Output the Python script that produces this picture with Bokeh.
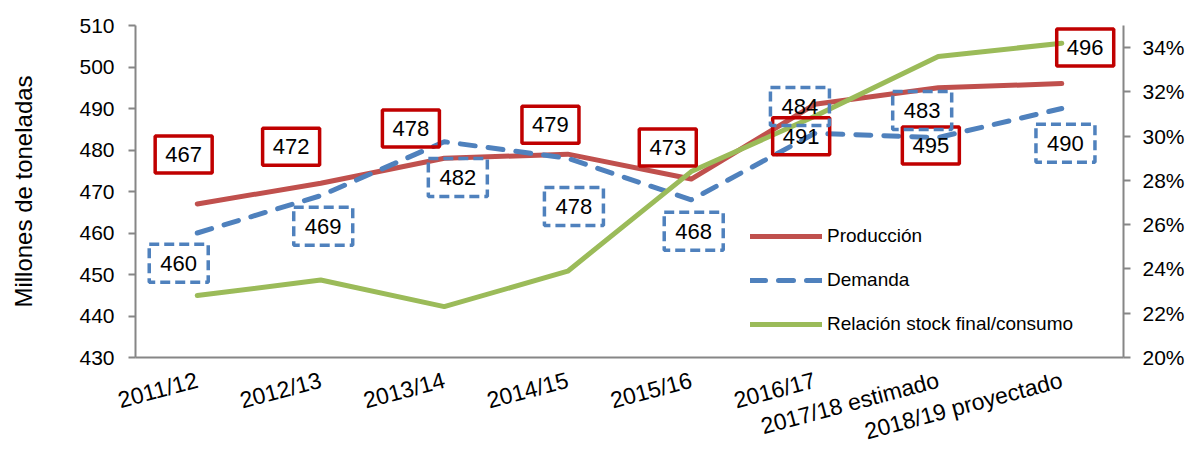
from bokeh.plotting import figure
from bokeh.models import (Range1d, LinearAxis, FixedTicker, NumeralTickFormatter,
                          Legend, LegendItem)
from bokeh.core.properties import value
from bokeh.embed import file_html
from bokeh.resources import INLINE

# ---- data ----
categories = ["2011/12", "2012/13", "2013/14", "2014/15", "2015/16", "2016/17",
              "2017/18 estimado", "2018/19 proyectado"]
produccion = [467, 472, 478, 479, 473, 491, 495, 496]
demanda = [460, 469, 482, 478, 468, 484, 483, 490]
relacion = [0.228, 0.235, 0.223, 0.239, 0.284, 0.309, 0.336, 0.342]

left_ticks = [430, 440, 450, 460, 470, 480, 490, 500, 510]
right_ticks = [0.20, 0.22, 0.24, 0.26, 0.28, 0.30, 0.32, 0.34]

# ---- label placement (layout only): offset in category units, centre height in left-axis units ----
prod_label_dx = [-0.11, -0.24, -0.27, -0.14, -0.19, -0.11, -0.06, 0.19]
prod_label_y = [478.9, 480.8, 485.2, 486.1, 480.6, 483.3, 481.1, 504.7]
dem_label_dx = [-0.15, 0.02, 0.11, 0.05, 0.02, -0.12, -0.13, 0.03]
dem_label_y = [452.7, 461.6, 473.4, 466.4, 460.4, 490.5, 489.5, 481.6]

FONT = "Liberation Sans"
AXIS_GRAY = "#868686"
RED = "#C0504D"
BLUE = "#4F81BD"
GREEN = "#9BBB59"
BOX_RED = "#C00000"

n = len(categories)
xs = [i + 0.5 for i in range(n)]

p = figure(width=1187, height=462, output_backend="svg", toolbar_location=None,
           x_range=Range1d(0, n), y_range=Range1d(left_ticks[0], left_ticks[-1]),
           min_border_left=135, min_border_right=64, min_border_top=25, min_border_bottom=105)
p.extra_y_ranges = {"ratio": Range1d(0.20, 0.35)}
p.grid.visible = False
p.outline_line_color = None
p.background_fill_color = "white"
p.border_fill_color = "white"

# left axis
ly = p.left[0]
ly.ticker = FixedTicker(ticks=left_ticks)
ly.axis_label = "Millones de toneladas"
ly.axis_label_text_font = FONT
ly.axis_label_text_font_size = "24px"
ly.axis_label_text_font_style = "normal"
ly.axis_label_text_color = "black"
ly.axis_label_standoff = 39
ly.major_label_standoff = 14

# right axis
ry = LinearAxis(y_range_name="ratio", ticker=FixedTicker(ticks=right_ticks),
                formatter=NumeralTickFormatter(format="0%"))
p.add_layout(ry, "right")
ry.major_label_standoff = 12

# bottom axis
bx = p.below[0]
bx.ticker = FixedTicker(ticks=xs)
bx.major_label_overrides = {x: c for x, c in zip(xs, categories)}
bx.major_label_orientation = 0.26
bx.major_tick_line_color = None
bx.major_tick_out = 0
bx.major_tick_in = 0
bx.major_label_standoff = 22
bx.major_label_text_font_size = "23px"

for ax in (ly, ry, bx):
    ax.axis_line_color = AXIS_GRAY
    ax.axis_line_width = 2
    ax.minor_tick_line_color = None
    ax.major_label_text_font = FONT
    ax.major_label_text_color = "black"
    if ax is not bx:
        ax.major_tick_line_color = AXIS_GRAY
        ax.major_tick_line_width = 2
        ax.major_tick_out = 7
        ax.major_tick_in = 0
        ax.major_label_text_font_size = "21px"

# series
r_prod = p.line(xs, produccion, line_color=RED, line_width=5,
                line_cap="round", line_join="round")
r_dem = p.line(xs, demanda, line_color=BLUE, line_width=5, line_dash="15 13",
               line_cap="round", line_join="round")
r_rel = p.line(xs, relacion, y_range_name="ratio", line_color=GREEN, line_width=5,
               line_cap="round", line_join="round")

# data labels
px = [x + d for x, d in zip(xs, prod_label_dx)]
dx_ = [x + d for x, d in zip(xs, dem_label_dx)]
p.rect(px, prod_label_y, width=57, height=37, width_units="screen", height_units="screen",
       fill_alpha=0, line_color=BOX_RED, line_width=3.5)
p.text(px, prod_label_y, text=[str(v) for v in produccion], text_align="center",
       text_baseline="middle", text_font=value(FONT), text_font_size="22px", text_color="black")
p.rect(dx_, dem_label_y, width=59, height=38, width_units="screen", height_units="screen",
       fill_alpha=0, line_color=BLUE, line_width=3.5, line_dash="10 5")
p.text(dx_, dem_label_y, text=[str(v) for v in demanda], text_align="center",
       text_baseline="middle", text_font=value(FONT), text_font_size="22px", text_color="black")

legend = Legend(items=[LegendItem(label="Producción", renderers=[r_prod]),
                       LegendItem(label="Demanda", renderers=[r_dem]),
                       LegendItem(label="Relación stock final/consumo", renderers=[r_rel])],
                location=(615, 22), glyph_width=72, glyph_height=22, label_height=22,
                spacing=22, padding=0, margin=0, label_standoff=5,
                border_line_color=None, background_fill_alpha=0,
                label_text_font=FONT, label_text_font_size="19px", label_text_color="black")
p.add_layout(legend)

open("out.html", "w").write(file_html(p, INLINE))
